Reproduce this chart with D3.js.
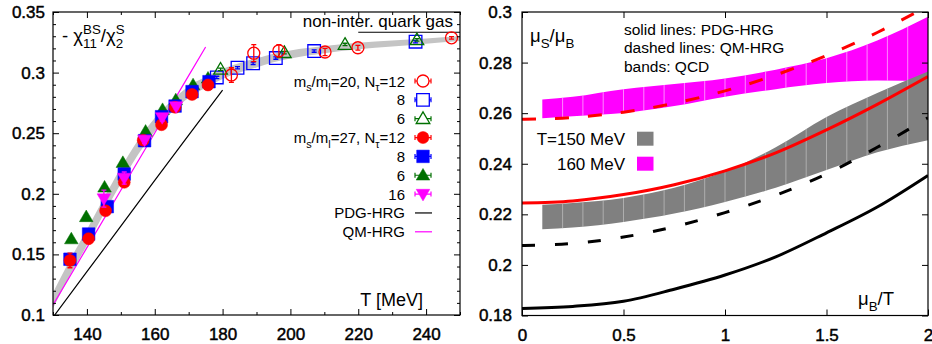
<!DOCTYPE html>
<html>
<head>
<meta charset="utf-8">
<script src="https://cdn.jsdelivr.net/npm/d3@7"></script>
<style>
  body { margin: 0; background: #fff; }
  text { font-family: "Liberation Sans", Arial, Helvetica, sans-serif; fill: #000; }
</style>
</head>
<body>
<svg id="chart" width="932" height="344"></svg>
<script>
"use strict";

/*
  Left panel data: -chi11BS/chi2S vs T [MeV]
*/
// ms/ml=20 (open symbols): [T, value, error]
var open12 = [[182.6, 0.298, 0.006], [189.2, 0.316, 0.007], [196.6, 0.318, 0.005], [210.2, 0.317, 0.003], [219.9, 0.3205, 0.002], [247.5, 0.3287, 0.001]];
var open8 = [[178.3, 0.296, 0.001], [184.4, 0.304, 0.001], [189.0, 0.3077, 0.001], [195.7, 0.312, 0.001], [207.0, 0.3178, 0.001], [236.9, 0.3255, 0.001]];
var open6 = [[179.4, 0.3027, 0.001], [198.2, 0.3164, 0.001], [216.1, 0.3232, 0.001], [237.3, 0.327, 0.001]];
// ms/ml=27 (filled symbols)
var fill12 = [[135.0, 0.145, 0.006], [140.5, 0.163, 0.004], [145.5, 0.186, 0.003], [151.0, 0.2095, 0.003], [156.6, 0.2442, 0.002], [162.0, 0.257, 0.002], [166.0, 0.2714, 0.002], [171.0, 0.282, 0.002], [175.7, 0.2898, 0.004]];
var fill8 = [[135.0, 0.146, 0.003], [140.5, 0.1668, 0.003], [146.0, 0.1894, 0.003], [151.0, 0.2163, 0.002], [157.0, 0.2438, 0.002], [162.0, 0.2636, 0.002], [166.0, 0.2724, 0.002], [171.0, 0.2843, 0.002], [176.0, 0.2925, 0.002]];
var fill6 = [[135.4, 0.1627, 0.001], [139.8, 0.181, 0.001], [145.2, 0.2054, 0.001], [150.6, 0.2257, 0.001], [157.3, 0.2515, 0.001], [162.3, 0.2694, 0.001], [166.2, 0.2774, 0.001], [171.3, 0.2898, 0.001], [175.7, 0.2953, 0.001]];
var fill16 = [[145.0, 0.196, 0.007], [151.0, 0.213, 0.005], [157.0, 0.2444, 0.003], [162.2, 0.263, 0.003], [166.3, 0.272, 0.002]];

// continuum band (gray)
var bandT  = [130, 135, 140, 145, 150, 155, 160, 165, 170, 175, 180, 185, 190, 195, 200, 210, 220, 230, 240, 250];
var bandLo = [0.1055, 0.1325, 0.1575, 0.1835, 0.2085, 0.232, 0.2515, 0.267, 0.2792, 0.2875, 0.2948, 0.300, 0.3043, 0.3085, 0.3117, 0.3160, 0.3193, 0.3215, 0.3238, 0.326];
var bandHi = [0.1185, 0.1455, 0.1705, 0.1965, 0.2215, 0.244, 0.2625, 0.277, 0.2888, 0.2965, 0.3032, 0.308, 0.3117, 0.3155, 0.3183, 0.3220, 0.3247, 0.3265, 0.3282, 0.330];

// HRG lines
var pdgT = [130.5, 140, 150, 160, 170, 180];
var pdgV = [0.100, 0.1357, 0.1733, 0.2110, 0.2485, 0.2856];
var qmT = [130, 140, 150, 160, 170, 175];
var qmV = [0.1083, 0.1556, 0.2029, 0.2502, 0.2975, 0.3211];
var quarkGas = 0.3333;

var tTicks = [140, 160, 180, 200, 220, 240];
var tMinor = [130, 150, 170, 190, 210, 230, 250];
var chiTicks = [0.1, 0.15, 0.2, 0.25, 0.3, 0.35];
var chiMinor = [0.11, 0.12, 0.13, 0.14, 0.16, 0.17, 0.18, 0.19, 0.21, 0.22, 0.23, 0.24, 0.26, 0.27, 0.28, 0.29, 0.31, 0.32, 0.33, 0.34];

/*
  Right panel data: muS/muB vs muB/T
*/
var mu = [0, 0.25, 0.5, 0.75, 1, 1.25, 1.5, 1.75, 2];
var pdg150 = [0.1828, 0.1836, 0.1856, 0.1904, 0.196, 0.2032, 0.2127, 0.2229, 0.2354];
var qm150  = [0.2077, 0.2085, 0.2110, 0.2151, 0.2207, 0.2275, 0.2360, 0.2465, 0.2582];
var pdg160 = [0.2245, 0.2253, 0.2278, 0.2317, 0.2372, 0.2443, 0.2534, 0.2635, 0.2745];
var qm160  = [0.2576, 0.2583, 0.2604, 0.2639, 0.2688, 0.2751, 0.2828, 0.2919, 0.3024];

var bandMu = [0.1, 0.25, 0.5, 0.75, 1, 1.25, 1.5, 1.75, 2];
var qcd150Lo = [0.2141, 0.2148, 0.2170, 0.2203, 0.2249, 0.2305, 0.2375, 0.2445, 0.2493];
var qcd150Hi = [0.2238, 0.2245, 0.2265, 0.2305, 0.2370, 0.2465, 0.2585, 0.2680, 0.2765];
var qcd160Lo = [0.2580, 0.2588, 0.2601, 0.2628, 0.2665, 0.2695, 0.2719, 0.2729, 0.2725];
var qcd160Hi = [0.2654, 0.2665, 0.2695, 0.2715, 0.2737, 0.2772, 0.2817, 0.2887, 0.2981];

var muTicks = [0, 0.5, 1, 1.5, 2];
var ratioTicks = [0.18, 0.2, 0.22, 0.24, 0.26, 0.28, 0.3];

var svg = d3.select("#chart");

function fmt(d) { return String(+d.toFixed(3)); }

function measure(str, size) {
  var tmp = svg.append("text").style("font-size", size + "px").text(str);
  var w = tmp.node().getComputedTextLength();
  tmp.remove();
  return w;
}

// parts: [string, kind] with kind 0 normal, 1 sub, 2 sup, 3 sub stacked under previous sup
function rich(g, x, y, size, parts, anchor) {
  var small = size * 0.72, cx = 0, lastX = 0, pieces = [];
  parts.forEach(function (p) {
    var s = p[1] === 0 ? size : small;
    var dy = (p[1] === 1 || p[1] === 3) ? size * 0.3 : (p[1] === 2 ? -size * 0.45 : 0);
    var px = p[1] === 3 ? lastX : cx;
    var w = measure(p[0], s);
    pieces.push({ str: p[0], x: px, dy: dy, s: s });
    if (p[1] === 3) { cx = Math.max(cx, px + w); } else { lastX = px; cx = px + w; }
  });
  var off = anchor === "end" ? -cx : 0;
  pieces.forEach(function (q) {
    g.append("text").attr("x", x + off + q.x).attr("y", y + q.dy)
      .style("font-size", q.s + "px").text(q.str);
  });
}

function frame(g, x, y, xMaj, xMin, yMaj, yMin, xPad, yPad) {
  var r = x.range(), d = y.range();
  var axes = [
    [d3.axisBottom(x).tickValues(xMaj).tickFormat(fmt).tickSize(-6).tickPadding(xPad), "translate(0," + d[0] + ")"],
    [d3.axisTop(x).tickValues(xMaj).tickFormat("").tickSize(-6), "translate(0," + d[1] + ")"],
    [d3.axisLeft(y).tickValues(yMaj).tickFormat(fmt).tickSize(-6).tickPadding(yPad), "translate(" + r[0] + ",0)"],
    [d3.axisRight(y).tickValues(yMaj).tickFormat("").tickSize(-6), "translate(" + r[1] + ",0)"]
  ];
  if (xMin) {
    axes.push([d3.axisBottom(x).tickValues(xMin).tickFormat("").tickSize(-3), "translate(0," + d[0] + ")"]);
    axes.push([d3.axisTop(x).tickValues(xMin).tickFormat("").tickSize(-3), "translate(0," + d[1] + ")"]);
  }
  if (yMin) {
    axes.push([d3.axisLeft(y).tickValues(yMin).tickFormat("").tickSize(-3), "translate(" + r[0] + ",0)"]);
    axes.push([d3.axisRight(y).tickValues(yMin).tickFormat("").tickSize(-3), "translate(" + r[1] + ",0)"]);
  }
  axes.forEach(function (a) {
    var ag = g.append("g").attr("transform", a[1]).call(a[0].tickSizeOuter(0));
    ag.select(".domain").remove();
    ag.selectAll("line").attr("stroke", "#000").attr("stroke-width", 1);
    ag.selectAll("text").style("font-size", "17px").style("font-family", null)
      .attr("stroke", "#000").attr("stroke-width", 0.45);
  });
  g.append("rect").attr("x", r[0]).attr("y", d[1])
    .attr("width", r[1] - r[0]).attr("height", d[0] - d[1])
    .attr("fill", "none").attr("stroke", "#000").attr("stroke-width", 1.2);
}

/*
  Left panel
*/
var xL = d3.scaleLinear().domain([130, 250]).range([53, 460]);
var yL = d3.scaleLinear().domain([0.1, 0.35]).range([315, 12]);
var left = svg.append("g");

svg.append("clipPath").attr("id", "clipL").append("rect")
  .attr("x", 53).attr("y", 12).attr("width", 407).attr("height", 303);
var plotL = left.append("g").attr("clip-path", "url(#clipL)");

plotL.append("path")
  .datum(bandT.map(function (t, i) { return [t, bandLo[i], bandHi[i]]; }))
  .attr("fill", "#c4c4c4")
  .attr("d", d3.area().curve(d3.curveMonotoneX)
    .x(function (d) { return xL(d[0]); })
    .y0(function (d) { return yL(d[1]); })
    .y1(function (d) { return yL(d[2]); }));

var lineL = d3.line().x(function (d) { return xL(d[0]); }).y(function (d) { return yL(d[1]); });
plotL.append("path").datum(pdgT.map(function (t, i) { return [t, pdgV[i]]; }))
  .attr("fill", "none").attr("stroke", "#000").attr("stroke-width", 1.2).attr("d", lineL);
plotL.append("path").datum(qmT.map(function (t, i) { return [t, qmV[i]]; }))
  .attr("fill", "none").attr("stroke", "#ff00ff").attr("stroke-width", 1.2).attr("d", lineL);
plotL.append("line")
  .attr("x1", xL(220)).attr("x2", xL(250)).attr("y1", yL(quarkGas)).attr("y2", yL(quarkGas))
  .attr("stroke", "#000").attr("stroke-width", 1.2);

// symbol shapes, centred at 0,0
var shapes = {
  circle: "M6,0A6,6 0 1,1 -6,0A6,6 0 1,1 6,0Z",
  square: "M-6.3,-6.3H6.3V6.3H-6.3Z",
  up: "M0,-6.8L6.8,4.8H-6.8Z",
  down: "M0,6.8L6.8,-4.8H-6.8Z"
};

var series = [
  { data: open8, shape: "square", color: "#0000ff", filled: false, label: [["8", 0]] },
  { data: open6, shape: "up", color: "#007000", filled: false, label: [["6", 0]] },
  { data: open12, shape: "circle", color: "#ff0000", filled: false,
    label: [["m", 0], ["s", 1], ["/m", 0], ["l", 1], ["=20, N", 0], ["\u03c4", 1], ["=12", 0]] },
  { data: fill6, shape: "up", color: "#007000", filled: true, label: [["6", 0]] },
  { data: fill8, shape: "square", color: "#0000ff", filled: true, label: [["8", 0]] },
  { data: fill12, shape: "circle", color: "#ff0000", filled: true,
    label: [["m", 0], ["s", 1], ["/m", 0], ["l", 1], ["=27, N", 0], ["\u03c4", 1], ["=12", 0]] },
  { data: fill16, shape: "down", color: "#ff00ff", filled: true, label: [["16", 0]] }
];

series.forEach(function (s) {
  var grp = plotL.append("g");
  var pts = grp.selectAll("g").data(s.data).enter().append("g")
    .attr("transform", function (d) { return "translate(" + xL(d[0]) + "," + yL(d[1]) + ")"; });
  pts.append("path").attr("d", shapes[s.shape])
    .attr("fill", s.filled ? s.color : "none")
    .attr("stroke", s.color).attr("stroke-width", s.filled ? 0.5 : 1.3);
  pts.append("path")
    .attr("d", function (d) {
      var h = yL(d[1] - d[2]) - yL(d[1]);
      return "M0," + (-h) + "V" + h + "M-2.5," + (-h) + "H2.5M-2.5," + h + "H2.5";
    })
    .attr("fill", "none").attr("stroke", s.color).attr("stroke-width", 1.3);
});

// left legend (drawn in the reference's order)
var legOrder = [2, 0, 1, 5, 4, 3, 6];
var legY0 = 81, legStep = 18.85, legX = 423;
legOrder.forEach(function (k, i) {
  var s = series[k], cy = legY0 + i * legStep;
  rich(left, 405, cy + 5.5, 15, s.label, "end");
  var lg = left.append("g").attr("transform", "translate(" + legX + "," + cy + ")");
  lg.append("path").attr("d", "M-8,0H8M-8,-2.5V2.5M8,-2.5V2.5")
    .attr("stroke", s.color).attr("stroke-width", 1.2).attr("fill", "none");
  lg.append("path").attr("d", shapes[s.shape])
    .attr("fill", s.filled ? s.color : "#fff")
    .attr("stroke", s.color).attr("stroke-width", s.filled ? 0.5 : 1.3);
});
[["PDG-HRG", "#000"], ["QM-HRG", "#ff00ff"]].forEach(function (e, i) {
  var cy = legY0 + (7 + i) * legStep;
  left.append("text").attr("x", 405).attr("y", cy + 5.5).attr("text-anchor", "end")
    .style("font-size", "15px").text(e[0]);
  left.append("line").attr("x1", legX - 8).attr("x2", legX + 9).attr("y1", cy).attr("y2", cy)
    .attr("stroke", e[1]).attr("stroke-width", 1.2);
});

left.append("text").attr("x", 453).attr("y", 27).attr("text-anchor", "end")
  .style("font-size", "17px").text("non-inter. quark gas");
left.append("text").attr("x", 423).attr("y", 306).attr("text-anchor", "end")
  .style("font-size", "18px").text("T [MeV]");
rich(left, 62, 42, 18.5, [["- \u03c7", 0], ["BS", 2], ["11", 3], ["/\u03c7", 0], ["S", 2], ["2", 3]]);

frame(left, xL, yL, tTicks, tMinor, chiTicks, chiMinor, 13, 8);

/*
  Right panel
*/
var xR = d3.scaleLinear().domain([0, 2]).range([522, 928]);
var yR = d3.scaleLinear().domain([0.18, 0.3]).range([315.5, 12]);
var right = svg.append("g");

svg.append("clipPath").attr("id", "clipR").append("rect")
  .attr("x", 522).attr("y", 12).attr("width", 406).attr("height", 303.5);
var plotR = right.append("g").attr("clip-path", "url(#clipR)");

var areaR = d3.area().curve(d3.curveMonotoneX)
  .x(function (d) { return xR(d[0]); })
  .y0(function (d) { return yR(d[1]); })
  .y1(function (d) { return yR(d[2]); });

[["b160", qcd160Lo, qcd160Hi, "#ff00ff", "rgba(255,190,255,0.9)"],
 ["b150", qcd150Lo, qcd150Hi, "#808080", "rgba(200,200,200,0.8)"]].forEach(function (b) {
  var pts = bandMu.map(function (m, i) { return [m, b[1][i], b[2][i]]; });
  svg.append("clipPath").attr("id", b[0]).append("path").attr("d", areaR(pts));
  plotR.append("path").attr("d", areaR(pts)).attr("fill", b[3]);
  plotR.append("g").attr("clip-path", "url(#" + b[0] + ")")
    .selectAll("line").data(d3.range(2, 20).map(function (k) { return k / 10; }))
    .enter().append("line")
    .attr("x1", function (d) { return xR(d); }).attr("x2", function (d) { return xR(d); })
    .attr("y1", 12).attr("y2", 316)
    .attr("stroke", b[4]).attr("stroke-width", 0.8);
});

var lineR = d3.line().curve(d3.curveMonotoneX)
  .x(function (d) { return xR(d[0]); }).y(function (d) { return yR(d[1]); });
[[qm150, "#000", "13,20"], [pdg150, "#000", null], [qm160, "#ff0000", "14,19"], [pdg160, "#ff0000", null]]
  .forEach(function (c) {
    plotR.append("path").datum(mu.map(function (m, i) { return [m, c[0][i]]; }))
      .attr("fill", "none").attr("stroke", c[1]).attr("stroke-width", 3)
      .attr("stroke-dasharray", c[2]).attr("d", lineR);
  });

// right texts and legend
rich(right, 530, 42, 18.5, [["\u03bc", 0], ["S", 1], ["/\u03bc", 0], ["B", 1]]);
rich(right, 858, 305, 18.5, [["\u03bc", 0], ["B", 1], ["/T", 0]]);
["solid lines: PDG-HRG", "dashed lines: QM-HRG", "bands: QCD"].forEach(function (t, i) {
  right.append("text").attr("x", 624).attr("y", 34.5 + i * 18.8).style("font-size", "15.5px").text(t);
});
[["T=150 MeV", "#808080"], ["160 MeV", "#ff00ff"]].forEach(function (e, i) {
  var cy = 138.7 + i * 25;
  right.append("text").attr("x", 625).attr("y", cy + 6).attr("text-anchor", "end")
    .style("font-size", "17px").text(e[0]);
  right.append("rect").attr("x", 637).attr("y", cy - 7).attr("width", 16.5).attr("height", 14)
    .attr("fill", e[1]);
});

frame(right, xR, yR, muTicks, null, ratioTicks, null, 13, 10);
</script>
</body>
</html>
